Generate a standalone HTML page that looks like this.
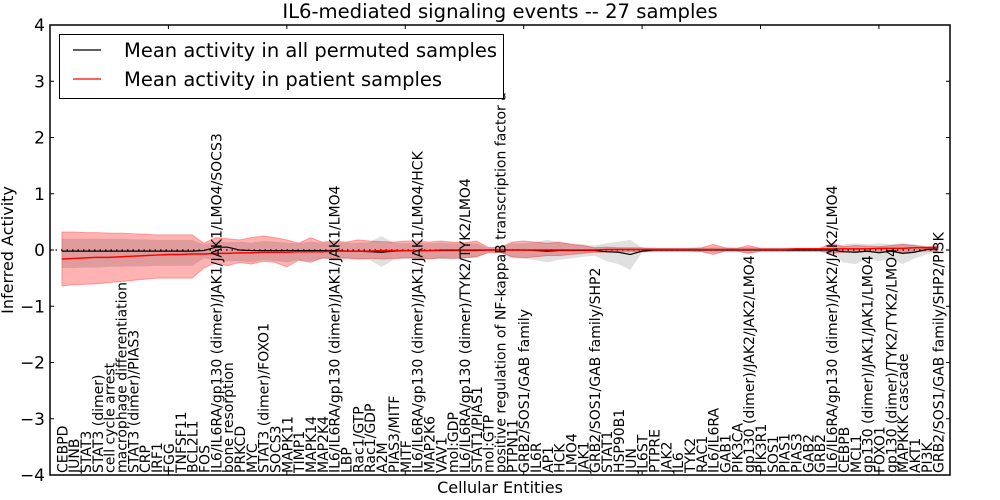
<!DOCTYPE html>
<html><head><meta charset="utf-8"><style>
html,body{margin:0;padding:0;background:#fff;}
svg{display:block;font-family:"DejaVu Sans","Liberation Sans",sans-serif;}
</style></head><body>
<svg id="chart" width="1000" height="500" xmlns="http://www.w3.org/2000/svg">
<text x="500" y="18" text-anchor="middle" font-size="19.6">IL6-mediated signaling events -- 27 samples</text>
<g id="plot"></g>
<text transform="translate(13,250) rotate(-90)" text-anchor="middle" font-size="16">Inferred Activity</text>
<text x="500" y="493" text-anchor="middle" font-size="16">Cellular Entities</text>
<g>
<rect x="59.5" y="34.5" width="444" height="64" fill="#fff" stroke="#000" stroke-width="1"/>
<g>
<line x1="73" y1="50" x2="101" y2="50" stroke="#000" stroke-width="1.2"/>
<text x="124" y="57" font-size="19.5">Mean activity in all permuted samples</text></g>
<g>
<line x1="73" y1="79" x2="101" y2="79" stroke="#f00" stroke-width="1.2"/>
<text x="124" y="86" font-size="19.5">Mean activity in patient samples</text></g>
</g>
</svg>
<script>
const categories=["CEBPD","JUNB","STAT3","STAT3 (dimer)","cell cycle arrest","macrophage differentiation","STAT3 (dimer)/PIAS3","CRP","IRF1","FGG","TNFSF11","BCL2L1","FOS","IL6/IL6RA/gp130 (dimer)/JAK1/JAK1/LMO4/SOCS3","bone resorption","PRKCD","MYC","STAT3 (dimer)/FOXO1","SOCS3","MAPK11","TIMP1","MAPK14","MAP2K4","IL6/IL6RA/gp130 (dimer)/JAK1/JAK1/LMO4","LBP","Rac1/GTP","Rac1/GDP","A2M","PIAS3/MITF","MITF","IL6/IL6RA/gp130 (dimer)/JAK1/JAK1/LMO4/HCK","MAP2K6","VAV1","mol:GDP","IL6/IL6RA/gp130 (dimer)/TYK2/TYK2/LMO4","STAT1/PIAS1","mol:GTP","positive regulation of NF-kappaB transcription factor a","PTPN11","GRB2/SOS1/GAB family","IL6R","AP1","HCK","LMO4","JAK1","GRB2/SOS1/GAB family/SHP2","STAT1","HSP90B1","JUN","IL6ST","PTPRE","JAK2","IL6","TYK2","RAC1","IL6/IL6RA","GAB1","PIK3CA","gp130 (dimer)/JAK2/JAK2/LMO4","PIK3R1","SOS1","PIAS1","PIAS3","GAB2","GRB2","IL6/IL6RA/gp130 (dimer)/JAK2/JAK2/LMO4","CEBPB","MCL1","gp130 (dimer)/JAK1/JAK1/LMO4","FOXO1","gp130 (dimer)/TYK2/TYK2/LMO4","MAPKKK cascade","AKT1","PI3K","GRB2/SOS1/GAB family/SHP2/PI3K"];
const redMean=[-0.16,-0.15,-0.14,-0.13,-0.13,-0.12,-0.11,-0.10,-0.09,-0.08,-0.08,-0.07,
-0.07,-0.06,-0.06,-0.05,-0.05,-0.04,-0.04,-0.04,-0.03,-0.03,-0.03,-0.02,-0.02,
-0.02,-0.02,-0.01,-0.01,-0.01,-0.01,-0.01,0,0,0,0,0,0,
0,0,0,0,0,0,0,0,0.01,0.01,0.01,0.01,
0.01,0.01,0.01,0.01,0.01,0.01,0.01,0.01,0.01,0.01,0.01,0.01,
0.02,0.02,0.02,0.02,0.02,0.02,0.02,0.03,0.03,0.03,0.04,0.04,0.05];
const redUp=[0.32,0.32,0.31,0.31,0.30,0.30,0.29,0.28,0.27,0.27,0.27,0.27,
0.12,0.22,0.20,0.18,0.22,0.25,0.22,0.18,0.12,0.22,0.14,0.16,0.14,
0.18,0.16,0.15,0.14,0.16,0.16,0.14,0.16,0.14,0.13,0.16,0.05,0.04,
0.14,0.16,0.14,0.12,0.14,0.10,0.08,0.04,0.05,0.04,0.04,0.04,
0.03,0.03,0.03,0.03,0.04,0.10,0.04,0.03,0.08,0.03,0.03,0.03,
0.03,0.03,0.03,0.12,0.06,0.08,0.07,0.06,0.08,0.10,0.08,0.06,0.07];
const redLow=[-0.64,-0.62,-0.61,-0.60,-0.58,-0.56,-0.54,-0.52,-0.50,-0.50,-0.50,-0.50,
-0.32,-0.22,-0.28,-0.22,-0.25,-0.20,-0.22,-0.30,-0.18,-0.22,-0.14,-0.15,-0.14,
-0.16,-0.15,-0.16,-0.15,-0.14,-0.14,-0.16,-0.14,-0.15,-0.14,-0.12,-0.05,-0.04,
-0.12,-0.14,-0.12,-0.10,-0.10,-0.08,-0.06,-0.04,-0.04,-0.03,-0.03,-0.03,
-0.02,-0.02,-0.02,-0.02,-0.03,-0.08,-0.02,-0.02,-0.06,-0.02,-0.02,-0.02,
-0.02,-0.02,-0.02,-0.06,-0.04,-0.03,-0.03,-0.03,-0.03,-0.04,-0.03,-0.02,-0.02];
const grayMean=[-0.02,-0.02,-0.02,-0.02,-0.02,-0.02,-0.02,-0.02,-0.02,-0.02,-0.02,-0.02,
-0.01,0.05,0.05,0,-0.01,-0.01,-0.01,-0.01,-0.01,-0.01,-0.01,-0.01,-0.02,
-0.02,-0.03,-0.04,-0.02,-0.01,-0.01,-0.01,-0.01,-0.01,-0.01,-0.01,0,0,
0,0,-0.01,-0.02,-0.01,-0.01,-0.01,-0.01,-0.03,-0.04,-0.08,-0.02,
0,0,0,0,0,0,0,0,0,0,0,0,
0,0,0,0,-0.03,-0.04,-0.02,-0.05,-0.02,-0.06,-0.04,0.01,0.02];
const grayUp=[0.20,0.20,0.20,0.20,0.20,0.20,0.19,0.19,0.18,0.18,0.18,0.18,
0.10,0.15,0.14,0.15,0.13,0.16,0.15,0.13,0.12,0.15,0.13,0.14,0.13,
0.13,0.14,0.25,0.13,0.12,0.13,0.12,0.13,0.12,0.12,0.12,0.04,0.04,
0.12,0.12,0.14,0.18,0.14,0.12,0.10,0.08,0.12,0.15,0.18,0.04,
0.04,0.04,0.04,0.04,0.04,0.05,0.04,0.04,0.05,0.04,0.04,0.04,
0.04,0.04,0.04,0.05,0.10,0.12,0.10,0.12,0.10,0.12,0.10,0.06,0.04];
const grayLow=[-0.32,-0.32,-0.31,-0.31,-0.30,-0.30,-0.29,-0.29,-0.28,-0.28,-0.28,-0.28,
-0.15,-0.18,-0.20,-0.20,-0.22,-0.18,-0.20,-0.22,-0.18,-0.20,-0.16,-0.18,-0.17,
-0.17,-0.18,-0.30,-0.18,-0.16,-0.16,-0.16,-0.16,-0.15,-0.15,-0.14,-0.04,-0.04,
-0.15,-0.15,-0.18,-0.22,-0.17,-0.15,-0.12,-0.10,-0.20,-0.25,-0.35,-0.05,
-0.04,-0.04,-0.04,-0.04,-0.04,-0.05,-0.04,-0.04,-0.05,-0.04,-0.04,-0.04,
-0.04,-0.04,-0.04,-0.05,-0.22,-0.25,-0.15,-0.20,-0.15,-0.25,-0.15,-0.08,-0.04];
const yTicks=[4,3,2,1,0,-1,-2,-3,-4];
const yTickLabels=["4","3","2","1","0","\u22121","\u22122","\u22123","\u22124"];
const xTicks=[0,10,20,30,40,50,60,70];

const L=50,R=950,T=25,B=475,XMIN=0,XMAX=76,YMIN=-4,YMAX=4;
const sx=v=>L+(v-XMIN)/(XMAX-XMIN)*(R-L);
const sy=v=>B-(v-YMIN)/(YMAX-YMIN)*(B-T);
const NS="http://www.w3.org/2000/svg";
const plot=document.getElementById('plot');
function mk(tag,attrs,parent){const e=document.createElementNS(NS,tag);for(const k in attrs)e.setAttribute(k,attrs[k]);(parent||plot).appendChild(e);return e;}
function bandPath(up,low){let d='';up.forEach((v,i)=>{d+=(i?'L':'M')+sx(i+1)+','+sy(v);});for(let i=low.length-1;i>=0;i--)d+='L'+sx(i+1)+','+sy(low[i]);return d+'Z';}
function linePath(arr){return arr.map((v,i)=>(i?'L':'M')+sx(i+1)+','+sy(v)).join('');}

let p=mk('path',{d:bandPath(redUp,redLow),fill:'#ff0000','fill-opacity':'0.3',stroke:'#ff0000','stroke-opacity':'0.3'});


p=mk('path',{d:bandPath(grayUp,grayLow),fill:'#000','fill-opacity':'0.12',stroke:'none'});


p=mk('line',{x1:L,x2:R,y1:sy(0),y2:sy(0),stroke:'#000','stroke-dasharray':'1.5,4','stroke-width':'1.2'});


p=mk('path',{d:linePath(grayMean),fill:'none',stroke:'#000','stroke-width':'1.2'});


p=mk('path',{d:linePath(redMean),fill:'none',stroke:'#f00','stroke-width':'1.5'});



categories.forEach((c,i)=>{
  const x=sx(i+1)+5.5;
  const t=mk('text',{transform:'translate('+x+','+(B-2)+') rotate(-90)','font-size':'14'});
  t.textContent=c;
  
  
});
yTicks.forEach((v,i)=>{
  const y=sy(v);
  const a=mk('line',{x1:L,x2:L+4,y1:y,y2:y,stroke:'#000'});
  
  
  const b=mk('line',{x1:R-4,x2:R,y1:y,y2:y,stroke:'#000'});
  
  
  const t=mk('text',{x:L-5,y:y+6,'text-anchor':'end','font-size':'17'});
  t.textContent=yTickLabels[i];
  
  
});
xTicks.forEach(v=>{
  const x=sx(v);
  const a=mk('line',{x1:x,x2:x,y1:T,y2:T+4,stroke:'#000'});
  
  
  const b=mk('line',{x1:x,x2:x,y1:B-4,y2:B,stroke:'#000'});
  
  
});
const fr=mk('rect',{x:L,y:T,width:R-L,height:B-T,fill:'none',stroke:'#000','stroke-width':'1.5'});


</script>
</body></html>
